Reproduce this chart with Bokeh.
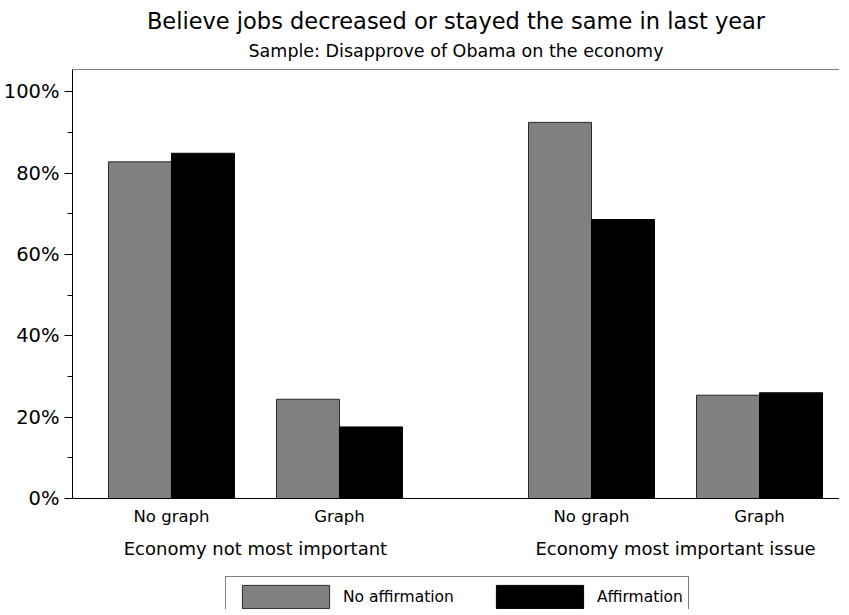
from bokeh.plotting import figure
from bokeh.layouts import column
from bokeh.models import (Range1d, LinearAxis, FixedTicker, Legend, LegendItem,
                          Title, ColumnDataSource, Span)
from bokeh.transform import dodge
from bokeh.embed import file_html
from bokeh.resources import INLINE

# ---- data ----
groups = ["Economy not most important", "Economy most important issue"]
conditions = ["No graph", "Graph"]
series_names = ["No affirmation", "Affirmation"]
no_affirmation = [82.8, 24.4, 92.5, 25.4]
affirmation = [84.9, 17.6, 68.6, 26.0]
y_ticks = [0, 20, 40, 60, 80, 100]
y_minor = [10, 30, 50, 70, 90]
title_text = "Believe jobs decreased or stayed the same in last year"
subtitle_text = "Sample: Disapprove of Obama on the economy"

# ---- layout helpers ----
GROUP_GAP = 2.5
BAR_W = 0.375
Y_TOP = 105.5
FONT = "DejaVu Sans"
GREY = "#808080"
EDGE = "#2a2a2a"
centers = [g * GROUP_GAP + c for g in range(len(groups)) for c in range(len(conditions))]
cond_labels = [c for g in groups for c in conditions]
group_centers = [g * GROUP_GAP + (len(conditions) - 1) / 2 for g in range(len(groups))]

src = ColumnDataSource(dict(x=centers, a=no_affirmation, b=affirmation))

p = figure(frame_width=767, frame_height=429, output_backend="svg", toolbar_location=None,
           title=None, x_axis_type=None, y_axis_type=None,
           x_range=Range1d(-0.589, 3.976), y_range=Range1d(0, Y_TOP),
           min_border_left=66, min_border_right=0, min_border_top=0, min_border_bottom=0)
p.outline_line_color = None
p.background_fill_color = "white"
p.border_fill_color = "white"

p.vbar(x=dodge("x", -BAR_W / 2), top="a", width=BAR_W, source=src,
       fill_color=GREY, line_color=EDGE, line_width=1)
p.vbar(x=dodge("x", BAR_W / 2), top="b", width=BAR_W, source=src,
       fill_color="black", line_color="black", line_width=1)

# y axis
yax = LinearAxis(ticker=FixedTicker(ticks=y_ticks, minor_ticks=y_minor),
                 major_label_overrides={t: f"{t}%" for t in y_ticks})
yax.axis_line_color = "black"
yax.major_tick_line_color = "black"
yax.minor_tick_line_color = "black"
yax.major_tick_out = 8
yax.major_tick_in = 0
yax.minor_tick_out = 5
yax.minor_tick_in = 0
yax.major_label_standoff = 5
yax.major_label_text_font = FONT
yax.major_label_text_font_size = "19.5px"
yax.major_label_text_color = "black"
p.add_layout(yax, "left")

# x axis: condition labels
xax = LinearAxis(ticker=FixedTicker(ticks=centers, minor_ticks=[]),
                 major_label_overrides={c: l for c, l in zip(centers, cond_labels)})
xax.axis_line_color = "black"
xax.major_tick_line_color = None
xax.minor_tick_line_color = None
xax.major_tick_out = 0
xax.major_label_standoff = 8
xax.major_label_text_font = FONT
xax.major_label_text_font_size = "16.5px"
xax.major_label_text_color = "black"
p.add_layout(xax, "below")

# x axis: group labels
gax = LinearAxis(ticker=FixedTicker(ticks=group_centers, minor_ticks=[]),
                 major_label_overrides={c: g for c, g in zip(group_centers, groups)})
gax.axis_line_color = None
gax.major_tick_line_color = None
gax.minor_tick_line_color = None
gax.major_tick_out = 0
gax.major_label_standoff = 9
gax.major_label_text_font = FONT
gax.major_label_text_font_size = "18px"
gax.major_label_text_color = "black"
p.add_layout(gax, "below")

# top border line
p.add_layout(Span(location=Y_TOP, dimension="width", line_color="black", line_width=1))

sub = Title(text=subtitle_text, align="center", text_font=FONT, text_font_size="17.5px",
            text_font_style="normal", text_color="black", standoff=17, offset=6)
p.add_layout(sub, "above")
main = Title(text=title_text, align="center", text_font=FONT, text_font_size="22.5px",
             text_font_style="normal", text_color="black", standoff=-6, offset=7)
p.add_layout(main, "above")
spacer = Title(text=" ", text_font_size="1px", standoff=5)
p.add_layout(spacer, "above")

# ---- legend strip under the chart ----
LEG_H = 48
LEG_TOP = 17
LEG_PAD = 5
LEG_GLYPH_W = 109   # area swatches are inset 10% on each side
LEG_GLYPH_H = 29
lg = figure(width=833, height=LEG_H, output_backend="svg", toolbar_location=None,
            title=None, x_axis_type=None, y_axis_type=None,
            x_range=Range1d(0, 1), y_range=Range1d(0, 1), min_border=0)
lg.outline_line_color = None
lg.background_fill_color = "white"
lg.border_fill_color = "white"
# key glyphs parked outside the visible range; they only style the legend swatches
k1 = lg.vbar(x=[-5], top=[-5], width=0.1, fill_color=GREY, line_color=EDGE, line_width=1)
k2 = lg.vbar(x=[-5], top=[-5], width=0.1, fill_color="black", line_color="black", line_width=1)
legend = Legend(items=[LegendItem(label=series_names[0], renderers=[k1]),
                       LegendItem(label=series_names[1], renderers=[k2])],
                orientation="horizontal",
                location=(153, LEG_H - LEG_TOP - (2 * LEG_PAD + LEG_GLYPH_H)),
                glyph_width=LEG_GLYPH_W, glyph_height=LEG_GLYPH_H, label_standoff=3,
                spacing=31, padding=LEG_PAD, margin=0,
                border_line_color="black", border_line_width=1,
                label_text_font=FONT, label_text_font_size="15.5px",
                label_text_color="black", background_fill_alpha=1)
lg.add_layout(legend, "center")

layout = column(p, lg, spacing=0)
open("out.html", "w").write(file_html(layout, INLINE))
